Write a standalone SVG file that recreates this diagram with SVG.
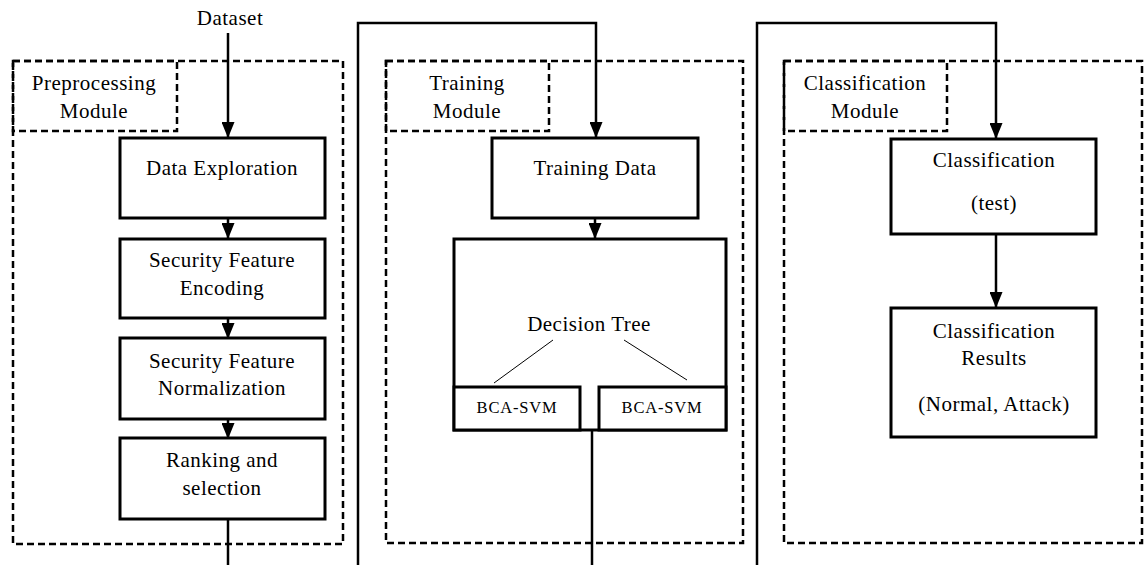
<svg xmlns="http://www.w3.org/2000/svg" width="1148" height="565" viewBox="0 0 1148 565">
<defs>
<marker id="arr" viewBox="0 0 16 13" refX="15" refY="6.5" markerWidth="16" markerHeight="13" markerUnits="userSpaceOnUse" orient="auto">
<path d="M0,0 L16,6.5 L0,13 z" fill="#000"/>
</marker>
<style>
.t{font-family:"Liberation Serif","Times New Roman",Times,serif;font-size:21px;letter-spacing:0.5px;fill:#000;text-anchor:middle}
.s{font-size:16.5px;letter-spacing:0.8px}
.box{fill:#fff;stroke:#000;stroke-width:3}
.mod{fill:none;stroke:#000;stroke-width:2.5;stroke-dasharray:7,4}
.ln{fill:none;stroke:#000;stroke-width:2.5}
.thin{fill:none;stroke:#000;stroke-width:1}
</style>
</defs>
<rect width="1148" height="565" fill="#fff"/>

<g id="preprocessing-module">
<rect class="mod" x="13" y="61" width="330" height="483"/>
<rect class="mod" x="13" y="61" width="164" height="70"/>
<text class="t" x="94" y="90">Preprocessing</text>
<text class="t" x="94" y="118">Module</text>
</g>
<g id="training-module">
<rect class="mod" x="386" y="61" width="357" height="482"/>
<rect class="mod" x="386" y="61" width="163" height="70"/>
<text class="t" x="467" y="90">Training</text>
<text class="t" x="467" y="118">Module</text>
</g>
<g id="classification-module">
<rect class="mod" x="784" y="61" width="358" height="482"/>
<rect class="mod" x="784" y="61" width="163" height="70"/>
<text class="t" x="865" y="90">Classification</text>
<text class="t" x="865" y="118">Module</text>
</g>

<g id="connectors">
<line class="ln" x1="228" y1="33" x2="228" y2="137" marker-end="url(#arr)"/>
<line class="ln" x1="228" y1="218" x2="228" y2="238" marker-end="url(#arr)"/>
<line class="ln" x1="228" y1="318" x2="228" y2="338" marker-end="url(#arr)"/>
<line class="ln" x1="228" y1="419" x2="228" y2="438" marker-end="url(#arr)"/>
<line class="ln" x1="228" y1="519" x2="228" y2="565"/>
<polyline class="ln" points="358,565 358,23 596,23 596,137" marker-end="url(#arr)"/>
<line class="ln" x1="595" y1="218" x2="595" y2="238" marker-end="url(#arr)"/>
<line class="ln" x1="592" y1="430" x2="592" y2="565"/>
<polyline class="ln" points="757,565 757,23 996,23 996,138" marker-end="url(#arr)"/>
<line class="ln" x1="996" y1="234" x2="996" y2="307" marker-end="url(#arr)"/>
</g>

<g id="dataset">
<text class="t" x="230" y="25">Dataset</text>
</g>
<g id="data-exploration">
<rect class="box" x="120" y="138" width="205" height="80"/>
<text class="t" x="222" y="175">Data Exploration</text>
</g>
<g id="feature-encoding">
<rect class="box" x="120" y="239" width="205" height="79"/>
<text class="t" x="222" y="267">Security Feature</text>
<text class="t" x="222" y="295">Encoding</text>
</g>
<g id="feature-normalization">
<rect class="box" x="120" y="338" width="205" height="81"/>
<text class="t" x="222" y="368">Security Feature</text>
<text class="t" x="222" y="395">Normalization</text>
</g>
<g id="ranking-selection">
<rect class="box" x="120" y="438" width="205" height="81"/>
<text class="t" x="222" y="467">Ranking and</text>
<text class="t" x="222" y="495">selection</text>
</g>

<g id="training-data">
<rect class="box" x="492" y="138" width="206" height="80"/>
<text class="t" x="595" y="175">Training Data</text>
</g>
<g id="decision-tree">
<rect class="box" x="454" y="239" width="272" height="191"/>
<text class="t" x="589" y="331">Decision Tree</text>
<line class="thin" x1="553" y1="340" x2="494" y2="383"/>
<line class="thin" x1="624" y1="340" x2="687" y2="380"/>
</g>
<g id="bca-svm-left">
<rect class="box" x="454" y="387" width="126" height="43"/>
<text class="t s" x="517" y="413">BCA-SVM</text>
</g>
<g id="bca-svm-right">
<rect class="box" x="599" y="387" width="127" height="43"/>
<text class="t s" x="662" y="413">BCA-SVM</text>
</g>

<g id="classification-test">
<rect class="box" x="891" y="139" width="205" height="95"/>
<text class="t" x="994" y="167">Classification</text>
<text class="t" x="994" y="210">(test)</text>
</g>
<g id="classification-results">
<rect class="box" x="891" y="308" width="205" height="129"/>
<text class="t" x="994" y="338">Classification</text>
<text class="t" x="994" y="365">Results</text>
<text class="t" x="994" y="411">(Normal, Attack)</text>
</g>
</svg>
